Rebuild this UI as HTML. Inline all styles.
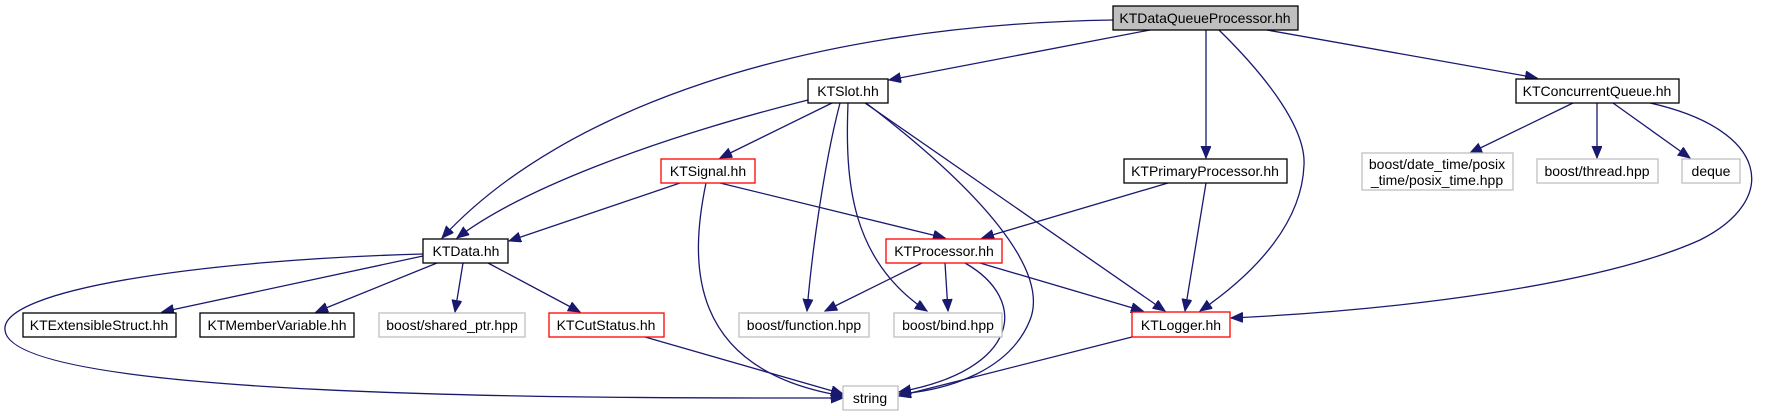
<!DOCTYPE html>
<html><head><meta charset="utf-8"><style>
html,body{margin:0;padding:0;background:#fff;}
svg{display:block;}
text{font-family:"Liberation Sans",Arial,sans-serif;font-size:14px;text-anchor:middle;fill:#000;}
.e{fill:none;stroke:#191970;stroke-width:1.3;marker-end:url(#a);}
</style></head><body>
<svg width="1766" height="416" viewBox="0 0 1766 416" xmlns="http://www.w3.org/2000/svg">
<defs><marker id="a" markerUnits="userSpaceOnUse" markerWidth="14" markerHeight="12" refX="12" refY="5" orient="auto"><path d="M0,0 L12,5 L0,10 Z" fill="#191970" stroke="#191970"/></marker></defs>
<!-- edges -->
<path class="e" d="M1113,20 C800,25 560,110 442,238"/>
<path class="e" d="M1150,30 L889,80"/>
<path class="e" d="M1206,30 L1206,158"/>
<path class="e" d="M1219,30 C1270,80 1306,130 1304,165 C1302,220 1260,270 1200,311"/>
<path class="e" d="M1267,30 L1537,78"/>
<path class="e" d="M808,100 C650,140 520,190 457,238"/>
<path class="e" d="M832,103 L720,158"/>
<path class="e" d="M840,103 C825,160 812,250 807,311"/>
<path class="e" d="M848,103 C845,180 850,260 927,311"/>
<path class="e" d="M865,103 L1165,311"/>
<path class="e" d="M866,103 C980,190 1050,270 1030,320 C1010,370 950,390 899,394"/>
<path class="e" d="M680,183 L509,241"/>
<path class="e" d="M720,183 L945,238"/>
<path class="e" d="M706,183 C690,260 685,370 843,396"/>
<path class="e" d="M1168,183 L982,238"/>
<path class="e" d="M1206,183 L1185,311"/>
<path class="e" d="M922,263 L825,311"/>
<path class="e" d="M945,263 L948,311"/>
<path class="e" d="M980,263 L1143,311"/>
<path class="e" d="M965,263 C1030,300 1020,370 899,392"/>
<path class="e" d="M423,256 L162,312"/>
<path class="e" d="M437,263 L316,312"/>
<path class="e" d="M463,263 L455,312"/>
<path class="e" d="M488,263 L580,312"/>
<path class="e" d="M423,254 C200,260 0,290 5,330 C10,400 600,398 843,398"/>
<path class="e" d="M645,337 L843,394"/>
<path class="e" d="M1132,337 L899,396"/>
<path class="e" d="M1573,103 L1470,153"/>
<path class="e" d="M1597,103 L1597,158"/>
<path class="e" d="M1613,103 L1690,158"/>
<path class="e" d="M1650,103 C1770,130 1780,200 1700,240 C1600,285 1400,310 1231,318"/>
<!-- nodes -->
<g stroke-width="1.3">
<rect x="1113" y="6" width="185" height="24" fill="#bfbfbf" stroke="#000"/><text x="1205" y="23">KTDataQueueProcessor.hh</text>
<rect x="808" y="79" width="80" height="24" fill="#fff" stroke="#000"/><text x="848" y="96">KTSlot.hh</text>
<rect x="1516" y="79" width="163" height="24" fill="#fff" stroke="#000"/><text x="1597" y="96">KTConcurrentQueue.hh</text>
<rect x="1124" y="159" width="163" height="24" fill="#fff" stroke="#000"/><text x="1205" y="176">KTPrimaryProcessor.hh</text>
<rect x="1362" y="153" width="151" height="37" fill="#fff" stroke="#bfbfbf"/><text x="1437" y="169">boost/date_time/posix</text><text x="1437" y="185">_time/posix_time.hpp</text>
<rect x="1537" y="159" width="121" height="24" fill="#fff" stroke="#bfbfbf"/><text x="1597" y="176">boost/thread.hpp</text>
<rect x="1682" y="159" width="58" height="24" fill="#fff" stroke="#bfbfbf"/><text x="1711" y="176">deque</text>
<rect x="661" y="159" width="94" height="24" fill="#fff" stroke="#ff0000"/><text x="708" y="176">KTSignal.hh</text>
<rect x="423" y="239" width="85" height="24" fill="#fff" stroke="#000"/><text x="466" y="256">KTData.hh</text>
<rect x="886" y="239" width="116" height="24" fill="#fff" stroke="#ff0000"/><text x="944" y="256">KTProcessor.hh</text>
<rect x="23" y="313" width="153" height="24" fill="#fff" stroke="#000"/><text x="99" y="330">KTExtensibleStruct.hh</text>
<rect x="200" y="313" width="154" height="24" fill="#fff" stroke="#000"/><text x="277" y="330">KTMemberVariable.hh</text>
<rect x="379" y="313" width="146" height="24" fill="#fff" stroke="#bfbfbf"/><text x="452" y="330">boost/shared_ptr.hpp</text>
<rect x="549" y="313" width="115" height="24" fill="#fff" stroke="#ff0000"/><text x="606" y="330">KTCutStatus.hh</text>
<rect x="739" y="313" width="130" height="24" fill="#fff" stroke="#bfbfbf"/><text x="804" y="330">boost/function.hpp</text>
<rect x="894" y="313" width="108" height="24" fill="#fff" stroke="#bfbfbf"/><text x="948" y="330">boost/bind.hpp</text>
<rect x="1132" y="312" width="98" height="25" fill="#fff" stroke="#ff0000"/><text x="1181" y="330">KTLogger.hh</text>
<rect x="843" y="386" width="55" height="24" fill="#fff" stroke="#bfbfbf"/><text x="870" y="403">string</text>
</g>
</svg>
</body></html>
